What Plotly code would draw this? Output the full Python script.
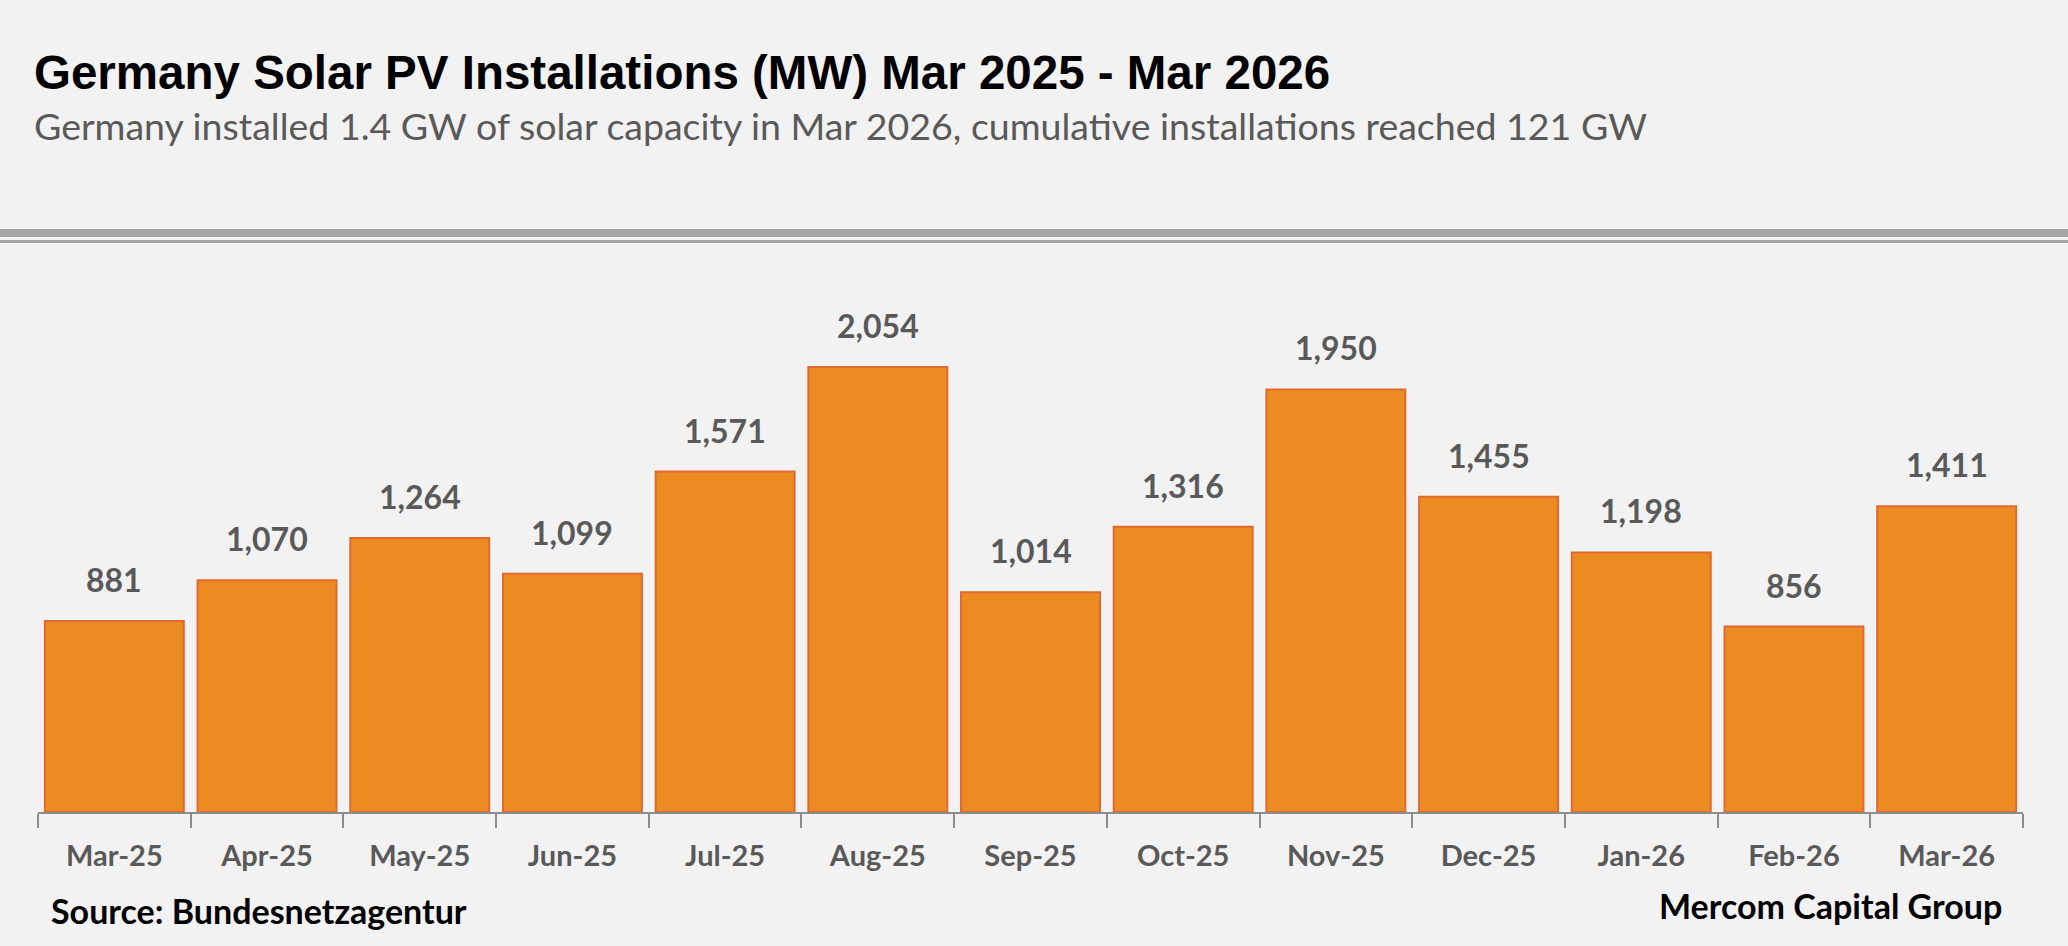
import plotly.graph_objects as go

months = ["Mar-25", "Apr-25", "May-25", "Jun-25", "Jul-25", "Aug-25", "Sep-25",
          "Oct-25", "Nov-25", "Dec-25", "Jan-26", "Feb-26", "Mar-26"]
installs_mw = [881, 1070, 1264, 1099, 1571, 2054, 1014, 1316, 1950, 1455, 1198, 856, 1411]

title = "Germany Solar PV Installations (MW) Mar 2025 - Mar 2026"
subtitle = "Germany installed 1.4 GW of solar capacity in Mar 2026, cumulative installations reached 121 GW"
source = "Source: Bundesnetzagentur"
brand = "Mercom Capital Group"

W, H = 2068, 946
ML, MR, MT, MB = 38, 45, 250, 134
PW = W - ML - MR
PH = H - MT - MB

def px_x(px):
    return (px - ML) / PW

def px_y(py):
    return (H - MB - py) / PH

fig = go.Figure()
fig.add_trace(go.Bar(
    x=months, y=installs_mw,
    marker=dict(color="#ED8B23", line=dict(color="#E0692F", width=2)),
    width=0.91,
    hoverinfo="x+y",
))

annotations = []
for m, v in zip(months, installs_mw):
    annotations.append(dict(
        x=m, y=v, xref="x", yref="y", text=f"{v:,}", showarrow=False,
        yanchor="bottom", yshift=20,
        font=dict(family="Lato", size=32, color="#595959", weight="bold"),
    ))

annotations += [
    dict(text=f"<b>{title}</b>", x=px_x(32), y=px_y(72), xref="paper", yref="paper",
         xanchor="left", yanchor="middle", showarrow=False,
         font=dict(family="Liberation Sans", size=47.5, color="#000000")),
    dict(text=subtitle, x=px_x(32), y=px_y(125), xref="paper", yref="paper",
         xanchor="left", yanchor="middle", showarrow=False,
         font=dict(family="Lato", size=37.5, color="#595959")),
    dict(text=f"<b>{source}</b>", x=px_x(49), y=px_y(910), xref="paper", yref="paper",
         xanchor="left", yanchor="middle", showarrow=False,
         font=dict(family="Lato", size=34, color="#000000")),
    dict(text=f"<b>{brand}</b>", x=px_x(2004), y=px_y(905), xref="paper", yref="paper",
         xanchor="right", yanchor="middle", showarrow=False,
         font=dict(family="Lato", size=34, color="#000000")),
]

shapes = [
    dict(type="rect", xref="paper", yref="paper", x0=px_x(0), x1=px_x(W),
         y0=px_y(237), y1=px_y(229), fillcolor="#A6A6A6", line=dict(width=0), layer="above"),
    dict(type="rect", xref="paper", yref="paper", x0=px_x(0), x1=px_x(W),
         y0=px_y(243), y1=px_y(240), fillcolor="#A6A6A6", line=dict(width=0), layer="above"),
]

fig.update_layout(
    width=W, height=H,
    margin=dict(l=ML, r=MR, t=MT, b=MB, autoexpand=False),
    paper_bgcolor="#F2F2F2", plot_bgcolor="#F2F2F2",
    showlegend=False,
    bargap=0.09,
    annotations=annotations,
    shapes=shapes,
    xaxis=dict(
        type="category", showgrid=False, zeroline=False,
        showline=True, linecolor="#8C8C8C", linewidth=2,
        ticks="outside", tickson="boundaries", ticklen=14, tickwidth=2, tickcolor="#8C8C8C",
        tickfont=dict(family="Lato", size=29, color="#595959", weight="bold"),
        ticklabelstandoff=17,
    ),
    yaxis=dict(range=[0, PH / 0.2167], visible=False, showgrid=False, zeroline=False),
)

fig.write_html("out.html", config={"displayModeBar": False},
               post_script="document.body.style.margin='0';document.body.style.background='#F2F2F2';")
